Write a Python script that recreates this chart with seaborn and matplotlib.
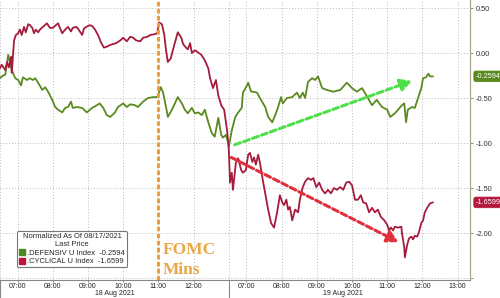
import matplotlib
matplotlib.use("Agg")
import matplotlib.pyplot as plt
import matplotlib.transforms as mtransforms
from matplotlib.lines import Line2D
import pandas as pd
import seaborn as sns

# ---------------- data ----------------
defensiv_times = [
    "18 06:30", "18 06:33", "18 06:39", "18 06:44", "18 06:50", "18 06:56", "18 07:01", "18 07:06",
    "18 07:09", "18 07:16", "18 07:21", "18 07:26", "18 07:30", "18 07:35", "18 07:42", "18 07:47",
    "18 07:52", "18 07:59", "18 08:04", "18 08:09", "18 08:16", "18 08:21", "18 08:26", "18 08:31",
    "18 08:34", "18 08:41", "18 08:50", "18 08:58", "18 09:07", "18 09:15", "18 09:20", "18 09:26",
    "18 09:32", "18 09:38", "18 09:46", "18 09:51", "18 10:00", "18 10:06", "18 10:12", "18 10:20",
    "18 10:25", "18 10:34", "18 10:42", "18 10:51", "18 10:58", "18 11:04", "18 11:08", "18 11:15",
    "18 11:16", "18 11:23", "18 11:28", "18 11:33", "18 11:40", "18 11:45", "18 11:50", "18 11:57",
    "18 12:02", "18 12:08", "18 12:14", "18 12:19", "18 12:25", "18 12:31", "18 12:36", "18 12:42",
    "18 12:47", "18 12:50", "18 12:55", "18 12:59",
    "19 06:30", "19 06:35", "19 06:41", "19 06:46", "19 06:52", "19 06:54", "19 07:01", "19 07:03",
    "19 07:08", "19 07:11", "19 07:18", "19 07:23", "19 07:32", "19 07:37", "19 07:44", "19 07:49",
    "19 07:54", "19 07:59", "19 08:02", "19 08:09", "19 08:18", "19 08:26", "19 08:31", "19 08:36",
    "19 08:40", "19 08:45", "19 08:52", "19 08:57", "19 09:02", "19 09:09", "19 09:17", "19 09:28",
    "19 09:40", "19 09:51", "19 10:00", "19 10:08", "19 10:17", "19 10:27", "19 10:34", "19 10:42",
    "19 10:51", "19 11:00", "19 11:05", "19 11:13", "19 11:25", "19 11:29", "19 11:32", "19 11:35",
    "19 11:42", "19 11:47", "19 11:53", "19 11:58", "19 12:01", "19 12:06", "19 12:10", "19 12:13",
    "19 12:18",
]
defensiv_values = [
    -0.28, -0.26, -0.24, -0.02, -0.19, -0.28, -0.30, -0.36,
    -0.27, -0.30, -0.28, -0.30, -0.28, -0.33, -0.41, -0.38,
    -0.43, -0.52, -0.60, -0.63, -0.66, -0.61, -0.60, -0.54,
    -0.61, -0.60, -0.61, -0.66, -0.61, -0.58, -0.56, -0.61,
    -0.69, -0.71, -0.66, -0.60, -0.56, -0.60, -0.57, -0.58,
    -0.60, -0.54, -0.50, -0.49, -0.49, -0.38, -0.44, -0.67,
    -0.71, -0.63, -0.56, -0.49, -0.56, -0.63, -0.67, -0.61,
    -0.67, -0.66, -0.69, -0.63, -0.77, -0.89, -0.93, -0.72,
    -0.91, -0.94, -0.91, -1.00,
    -1.04, -0.86, -0.71, -0.66, -0.61, -0.44, -0.36, -0.33,
    -0.43, -0.43, -0.44, -0.50, -0.60, -0.71, -0.77, -0.69,
    -0.60, -0.49, -0.56, -0.50, -0.49, -0.44, -0.50, -0.44,
    -0.50, -0.32, -0.28, -0.30, -0.26, -0.39, -0.41, -0.43,
    -0.41, -0.33, -0.39, -0.43, -0.39, -0.50, -0.58, -0.52,
    -0.60, -0.63, -0.71, -0.67, -0.58, -0.56, -0.77, -0.63,
    -0.60, -0.61, -0.49, -0.39, -0.28, -0.27, -0.23, -0.26,
    -0.2594,
]

cyclical_times = [
    "18 06:30", "18 06:33", "18 06:39", "18 06:42", "18 06:45", "18 06:49", "18 06:50", "18 06:54",
    "18 06:57", "18 07:01", "18 07:04", "18 07:07", "18 07:11", "18 07:14", "18 07:18", "18 07:21",
    "18 07:25", "18 07:28", "18 07:31", "18 07:35", "18 07:38", "18 07:45", "18 07:50", "18 07:55",
    "18 08:00", "18 08:09", "18 08:12", "18 08:16", "18 08:21", "18 08:26", "18 08:31", "18 08:34",
    "18 08:40", "18 08:43", "18 08:46", "18 08:50", "18 08:53", "18 08:57", "18 09:00", "18 09:03",
    "18 09:07", "18 09:12", "18 09:17", "18 09:22", "18 09:27", "18 09:32", "18 09:38", "18 09:43",
    "18 09:48", "18 09:55", "18 10:00", "18 10:06", "18 10:12", "18 10:17", "18 10:22", "18 10:29",
    "18 10:34", "18 10:41", "18 10:46", "18 10:54", "18 10:58", "18 11:01", "18 11:06", "18 11:10",
    "18 11:13", "18 11:16", "18 11:21", "18 11:27", "18 11:33", "18 11:39", "18 11:42", "18 11:47",
    "18 11:50", "18 11:54", "18 11:57", "18 12:02", "18 12:07", "18 12:13", "18 12:19", "18 12:25",
    "18 12:28", "18 12:33", "18 12:38", "18 12:42", "18 12:47", "18 12:52", "18 12:57",
    "19 06:30", "19 06:32", "19 06:35", "19 06:37", "19 06:42", "19 06:46", "19 06:51", "19 06:54",
    "19 06:59", "19 07:03", "19 07:06", "19 07:10", "19 07:13", "19 07:16", "19 07:20", "19 07:23",
    "19 07:27", "19 07:32", "19 07:37", "19 07:42", "19 07:47", "19 07:52", "19 07:57", "19 08:01",
    "19 08:04", "19 08:08", "19 08:11", "19 08:14", "19 08:18", "19 08:23", "19 08:28", "19 08:31",
    "19 08:36", "19 08:40", "19 08:45", "19 08:50", "19 08:54", "19 08:59", "19 09:04", "19 09:09",
    "19 09:14", "19 09:19", "19 09:24", "19 09:29", "19 09:34", "19 09:40", "19 09:45", "19 09:50",
    "19 09:55", "19 10:00", "19 10:05", "19 10:10", "19 10:15", "19 10:19", "19 10:24", "19 10:29",
    "19 10:34", "19 10:39", "19 10:44", "19 10:49", "19 10:55", "19 11:00", "19 11:03", "19 11:06",
    "19 11:10", "19 11:13", "19 11:18", "19 11:24", "19 11:25", "19 11:29", "19 11:30", "19 11:34",
    "19 11:37", "19 11:41", "19 11:44", "19 11:47", "19 11:51", "19 11:54", "19 11:58", "19 12:01",
    "19 12:04", "19 12:08", "19 12:13", "19 12:18",
]
cyclical_values = [
    -0.17, -0.13, -0.19, -0.10, -0.16, -0.04, -0.22, 0.14,
    0.20, 0.22, 0.26, 0.20, 0.29, 0.23, 0.32, 0.31,
    0.28, 0.22, 0.26, 0.23, 0.26, 0.30, 0.33, 0.28,
    0.28, 0.33, 0.28, 0.22, 0.26, 0.29, 0.24, 0.28,
    0.29, 0.27, 0.24, 0.20, 0.27, 0.29, 0.30, 0.31,
    0.30, 0.26, 0.20, 0.12, 0.06, 0.07, 0.09, 0.10,
    0.11, 0.14, 0.17, 0.13, 0.18, 0.17, 0.14, 0.13,
    0.17, 0.18, 0.20, 0.21, 0.22, 0.34, 0.32, 0.20,
    0.03, -0.10, -0.06, 0.09, 0.23, 0.17, 0.10, 0.06,
    0.04, 0.11, 0.00, 0.03, 0.01, -0.02, -0.08, -0.17,
    -0.28, -0.39, -0.30, -0.47, -0.58, -0.63, -0.86,
    -1.08, -1.44, -1.33, -1.52, -1.22, -1.17, -1.30, -1.33,
    -1.30, -1.13, -1.11, -1.21, -1.16, -1.24, -1.13, -1.22,
    -1.38, -1.56, -1.74, -1.89, -1.94, -1.78, -1.58, -1.66,
    -1.69, -1.63, -1.74, -1.71, -1.86, -1.74, -1.77, -1.63,
    -1.49, -1.43, -1.39, -1.41, -1.39, -1.49, -1.44, -1.52,
    -1.56, -1.52, -1.56, -1.50, -1.52, -1.49, -1.52, -1.44,
    -1.43, -1.47, -1.63, -1.63, -1.58, -1.66, -1.67, -1.77,
    -1.72, -1.77, -1.74, -1.82, -1.86, -1.91, -1.97, -1.94,
    -1.97, -1.93, -1.94, -1.93, -2.00, -2.16, -2.27, -2.13,
    -2.06, -2.04, -2.07, -2.03, -2.04, -1.99, -1.89, -1.86,
    -1.77, -1.72, -1.67, -1.6599,
]

series_names = [".DEFENSIV U Index", ".CYCLICAL U Index"]
last_prices = ["-0.2594", "-1.6599"]
day_labels = ["18 Aug 2021", "19 Aug 2021"]
day1_tick_labels = ["07:00", "08:00", "09:00", "10:00", "11:00", "12:00"]
day2_tick_labels = ["07:00", "08:00", "09:00", "10:00", "11:00", "12:00", "13:00"]
y_ticks = [0.5, 0.0, -0.5, -1.0, -1.5, -2.0, -2.5]
fomc_time = "18 11:00"
green_arrow = (("19 06:40", -1.02), ("19 11:42", -0.31))
red_arrow = (("19 06:34", -1.16), ("19 11:19", -2.10))

# ------------------------------------------------------------------
SESSION_START = 6.5  # 06:30 each day; each day shows 06:30-13:00


def session_hours(stamp):
    day, hm = stamp.split()
    h, m = (int(p) for p in hm.split(":"))
    offset = 0.0 if day == "18" else 6.5
    return h + m / 60.0 - SESSION_START + offset


def label_hours(day, label):
    return session_hours(f"{day} {label}")


df = pd.concat([
    pd.DataFrame({"t": [session_hours(s) for s in defensiv_times],
                  "value": defensiv_values, "series": series_names[0]}),
    pd.DataFrame({"t": [session_hours(s) for s in cyclical_times],
                  "value": cyclical_values, "series": series_names[1]}),
])

GREEN = "#5a8a1e"
RED = "#a51c3c"
palette = {series_names[0]: GREEN, series_names[1]: RED}

sns.set_theme(style="white")
plt.rcParams["font.family"] = ["Liberation Sans", "DejaVu Sans"]

fig = plt.figure(figsize=(5.0, 2.98), dpi=100)
ax = fig.add_axes([0.0, 18 / 298, 0.94, 280 / 298])

sns.lineplot(data=df, x="t", y="value", hue="series", palette=palette,
             linewidth=1.3, ax=ax, legend=False, sort=False, estimator=None)

ax.set_xlim(0, 13.35)
ax.set_ylim(-2.522, 0.589)

# x ticks
xt = [label_hours("18", l) for l in day1_tick_labels] + [label_hours("19", l) for l in day2_tick_labels]
ax.set_xticks(xt)
ax.set_xticklabels(day1_tick_labels + day2_tick_labels, fontsize=5.0, color="#222222")
ax.tick_params(axis="x", length=1.5, width=0.6, color="#777777", pad=0.6, direction="out", bottom=True)

# y ticks on the right
ax.yaxis.tick_right()
ax.set_yticks(y_ticks)
ax.set_yticklabels([f"{v:.2f}" if v > -2.4 else "" for v in y_ticks], fontsize=5.3, color="#333333")
ax.tick_params(axis="y", length=2.5, width=0.6, color="#777777", pad=1.5, direction="out", right=True)
ax.set_xlabel("")
ax.set_ylabel("")

# grid
ax.grid(True, which="major", color="#bbbbbb", linestyle=(0, (1, 2)), linewidth=0.7)
for gx in (0.0, 6.5):
    ax.axvline(gx, color="#bbbbbb", linestyle=(0, (1, 2)), linewidth=0.7, zorder=0)

for side in ("top", "left"):
    ax.spines[side].set_visible(False)
ax.spines["right"].set_color("#a8a888")
ax.spines["right"].set_linewidth(0.9)
ax.spines["bottom"].set_color("#888888")
ax.spines["bottom"].set_linewidth(0.8)

# day separators in tick area and day labels
btrans = mtransforms.blended_transform_factory(ax.transData, ax.transAxes)
for sx in (0.0, 6.5):
    ax.plot([sx, sx], [0, -0.07], transform=btrans, color="#888888", lw=0.8, clip_on=False)
for i, lab in enumerate(day_labels):
    ax.text(3.25 + 6.5 * i, -0.034, lab, transform=btrans, ha="center", va="top",
            fontsize=5.0, color="#222222")

# FOMC line and text
ax.axvline(session_hours(fomc_time), color="#f0a030", linestyle=(0, (1.5, 0.8)), lw=2.2, zorder=3)
ax.text(4.63, 0.135, "FOMC", transform=btrans, ha="left", va="top", fontsize=12.5,
        fontweight="bold", family="Liberation Serif", color="#e8a848")
ax.text(4.63, 0.066, "Mins", transform=btrans, ha="left", va="top", fontsize=12.5,
        fontweight="bold", family="Liberation Serif", color="#e8a848")

# trend arrows
for (start, end), col in ((green_arrow, "#4ee04a"), (red_arrow, "#e0303a")):
    x0, y0 = session_hours(start[0]), start[1]
    x1, y1 = session_hours(end[0]), end[1]
    ax.annotate("", xy=(x1, y1), xytext=(x0, y0),
                arrowprops=dict(arrowstyle="-|>,head_length=0.55,head_width=0.3",
                                color=col, lw=2.2, linestyle=(0, (2, 1.1)),
                                shrinkA=0, shrinkB=0), zorder=4)

# last price tags at right
rtrans = mtransforms.blended_transform_factory(ax.transAxes, ax.transData)
for val, txt, col in ((defensiv_values[-1], last_prices[0], GREEN),
                      (cyclical_values[-1], last_prices[1], "#b5183c")):
    ax.text(1.012, val, txt, transform=rtrans, ha="left", va="center", fontsize=5.3,
            color="white", clip_on=False,
            bbox=dict(boxstyle="round,pad=0.25,rounding_size=0.3", fc=col, ec=col, lw=0.5))

# legend
handles = [Line2D([], [], marker="s", linestyle="none", markersize=4, color=c)
           for c in ("#4a8a20", "#c0143c")]
labels = [f"{n}  {p}" for n, p in zip(series_names, last_prices)]
leg = ax.legend(handles, labels, title="Normalized As Of 08/17/2021\nLast Price",
                loc="lower left", bbox_to_anchor=(0.036, 0.045), fontsize=5.4,
                title_fontsize=5.4, frameon=True, fancybox=True, framealpha=1,
                edgecolor="#777777", handlelength=0.8, handletextpad=0.3,
                borderpad=0.3, labelspacing=0.15, borderaxespad=0)
leg.get_frame().set_linewidth(0.8)
leg.get_title().set_multialignment("center")
leg._legend_box.align = "center"

fig.savefig("out.png", dpi=100)
